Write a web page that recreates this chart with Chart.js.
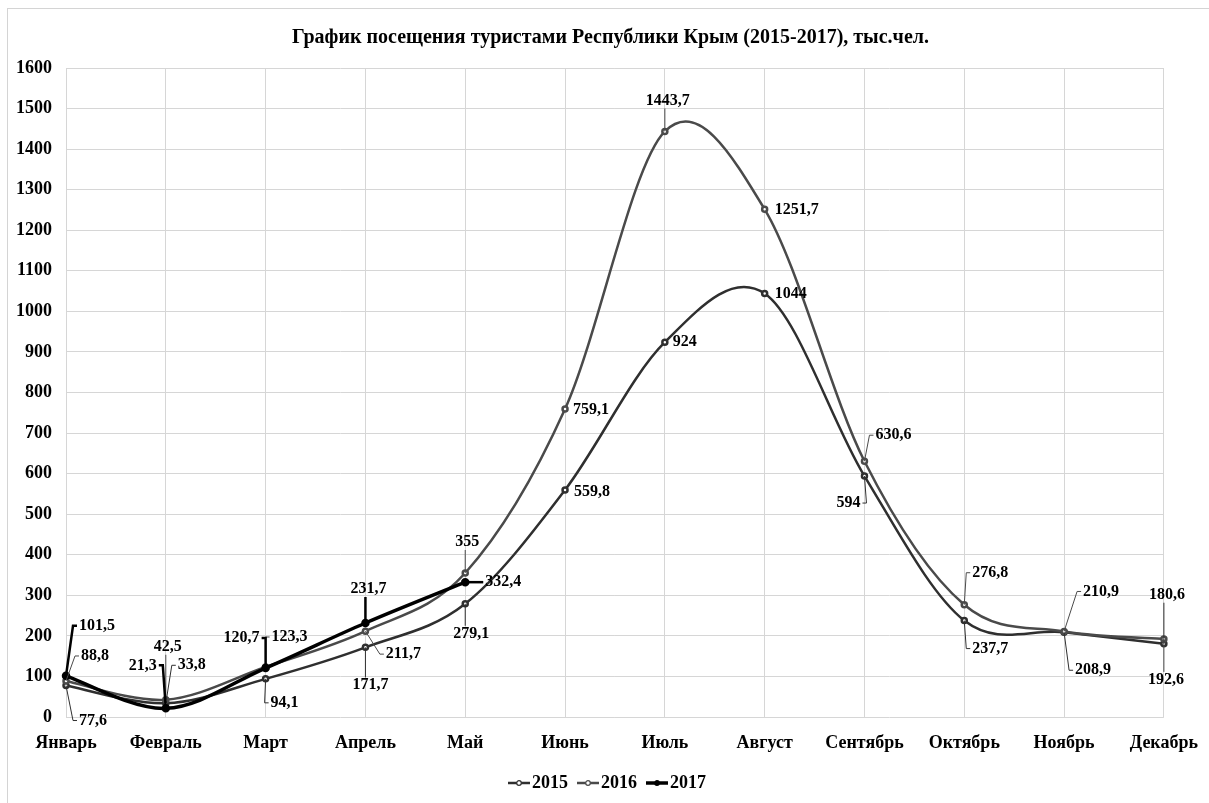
<!DOCTYPE html>
<html lang="ru">
<head>
<meta charset="utf-8">
<title>График посещения туристами Республики Крым</title>
<script src="https://cdn.jsdelivr.net/npm/chart.js@4.4.1/dist/chart.umd.min.js"></script>
<style>
    html, body { margin: 0; padding: 0; background: #fff; overflow: hidden; }
    #frame { position: absolute; left: 7px; top: 8px; width: 1400px; height: 1000px; border: 1px solid #d4d4d4; }
    #wrap { position: absolute; left: 0; top: 0; width: 1209px; height: 803px; }
</style>
</head>
<body>
<div id="frame"></div>
<div id="wrap"><canvas id="chart" width="1209" height="803"></canvas></div>
<script>
/**
 * Данные графика (тыс. чел.).
 */
const MONTHS = ['Январь', 'Февраль', 'Март', 'Апрель', 'Май', 'Июнь', 'Июль', 'Август', 'Сентябрь', 'Октябрь', 'Ноябрь', 'Декабрь'];
const SERIES_NAMES = ['2015', '2016', '2017'];
const VISITS_2015 = [77.6, 33.8, 94.1, 171.7, 279.1, 559.8, 924, 1044, 594, 237.7, 208.9, 180.6];
const VISITS_2016 = [88.8, 42.5, 123.3, 211.7, 355, 759.1, 1443.7, 1251.7, 630.6, 276.8, 210.9, 192.6];
const VISITS_2017 = [101.5, 21.3, 120.7, 231.7, 332.4];
const Y_MIN = 0;
const Y_MAX = 1600;
const Y_STEP = 100;

/**
 * Смещения подписей значений относительно точек (px), как в исходной картинке.
 */
const OFFSETS_2015 = [[27, 35], [26, -38], [19, 24], [5, 38], [6, 30], [27, 2], [20, 0], [26, 0], [-16, 27], [26, 28], [29, 38], [3, -49]];
const OFFSETS_2016 = [[29, -25], [2, -53], [24, -30], [38, 23], [2, -31], [26, 1], [3, -31], [32, 1], [29, -26], [26, -32], [37, -40], [2, 41]];
const OFFSETS_2017 = [[31, -50], [-23, -43], [-24, -30], [3, -34], [38, 0]];

const FONT = "'Liberation Serif', 'Times New Roman', serif";

const makeLegendMark = (color, lineWidth, fill) => {
    const c = document.createElement('canvas');
    c.width = 22;
    c.height = 8;
    const g = c.getContext('2d');
    g.strokeStyle = color;
    g.lineWidth = lineWidth;
    g.beginPath();
    g.moveTo(0, 4);
    g.lineTo(22, 4);
    g.stroke();
    g.beginPath();
    g.arc(11, 4, 2.3, 0, Math.PI * 2);
    g.fillStyle = fill;
    g.fill();
    g.lineWidth = 1.2;
    g.stroke();
    return c;
};

/**
 * Сглаживание как в Excel: контрольные точки P[i] ± (P[i+1] - P[i-1]) / 6.
 * Штатный tension в Chart.js взвешивает по длинам отрезков и сдвигает пики.
 */
const excelSmoothing = {
    id: 'excelSmoothing',
    beforeDatasetDraw(chart, args) {
        const line = args.meta.dataset;
        if (!line) {
            return;
        }
        line.updateControlPoints(chart.chartArea, 'x');
        const pts = line.points.filter((p) => !p.skip);
        pts.forEach((p, k) => {
            const prev = pts[k - 1] || p;
            const next = pts[k + 1] || p;
            const tx = (next.x - prev.x) / 6;
            const ty = (next.y - prev.y) / 6;
            p.cp1x = p.x - tx;
            p.cp1y = p.y - ty;
            p.cp2x = p.x + tx;
            p.cp2y = p.y + ty;
        });
    }
};

/**
 * Подписи значений с выносками.
 */
const pointLabels = {
    id: 'pointLabels',
    afterDatasetsDraw(chart) {
        const ctx = chart.ctx;
        ctx.save();
        ctx.font = 'bold 16px ' + FONT;
        ctx.textAlign = 'center';
        ctx.textBaseline = 'middle';

        chart.data.datasets.forEach((ds, i) => {
            const meta = chart.getDatasetMeta(i);
            meta.data.forEach((pt, j) => {
                const v = ds.data[j];
                if (v === null || v === undefined) {
                    return;
                }
                const text = String(v).replace('.', ',');
                const [dx, dy] = ds.labelOffsets[j];
                const cx = pt.x + dx;
                const cy = pt.y + dy;
                const w = ctx.measureText(text).width;
                const x0 = cx - w / 2 - 2;
                const x1 = cx + w / 2 + 2;
                const y0 = cy - 8;
                const y1 = cy + 8;

                const qx = Math.min(Math.max(pt.x, x0), x1);
                const qy = Math.min(Math.max(pt.y, y0), y1);
                if (Math.hypot(pt.x - qx, pt.y - qy) > 10) {
                    ctx.strokeStyle = ds.borderColor;
                    ctx.lineWidth = ds.leaderWidth;
                    ctx.beginPath();
                    if (pt.x < x0 || pt.x > x1) {
                        const sx = pt.x < x0 ? x0 : x1;
                        const stub = pt.x < x0 ? -4 : 4;
                        ctx.moveTo(sx, cy);
                        ctx.lineTo(sx + stub, cy);
                    } else {
                        ctx.moveTo(pt.x, pt.y < y0 ? y0 : y1);
                    }
                    ctx.lineTo(pt.x, pt.y);
                    ctx.stroke();
                }

                ctx.fillStyle = '#000';
                ctx.fillText(text, cx, cy);
            });
        });
        ctx.restore();
    }
};

const LEGEND_MARKS = [
    makeLegendMark('#2f2f2f', 2.5, '#fff'),
    makeLegendMark('#4a4a4a', 2.5, '#fff'),
    makeLegendMark('#000', 3.5, '#000')
];

Chart.defaults.color = '#000';

new Chart(document.getElementById('chart'), {
    type: 'line',
    data: {
        labels: MONTHS,
        datasets: [
            {
                label: SERIES_NAMES[0],
                data: VISITS_2015,
                borderColor: '#2f2f2f',
                borderWidth: 2.5,
                pointBackgroundColor: '#fff',
                pointBorderColor: '#2f2f2f',
                labelOffsets: OFFSETS_2015,
                leaderWidth: 1,
                order: 2
            },
            {
                label: SERIES_NAMES[1],
                data: VISITS_2016,
                borderColor: '#4a4a4a',
                borderWidth: 2.5,
                pointBackgroundColor: '#fff',
                pointBorderColor: '#4a4a4a',
                labelOffsets: OFFSETS_2016,
                leaderWidth: 1,
                order: 1
            },
            {
                label: SERIES_NAMES[2],
                data: VISITS_2017,
                borderColor: '#000',
                borderWidth: 3.5,
                pointBackgroundColor: '#000',
                pointBorderColor: '#000',
                labelOffsets: OFFSETS_2017,
                leaderWidth: 2.5,
                order: 0
            }
        ]
    },
    options: {
        responsive: false,
        animation: false,
        layout: { padding: { left: 12, right: 0, top: 0, bottom: 1 } },
        elements: {
            line: { tension: 0.4, fill: false, capBezierPoints: false },
            point: { radius: 2.5, borderWidth: 1.2, hoverRadius: 2.5 }
        },
        scales: {
            x: {
                grid: { color: '#d6d6d6', drawTicks: false },
                border: { display: false },
                ticks: {
                    font: { family: FONT, size: 18, weight: 'bold', lineHeight: 1.75 },
                    padding: 11,
                    autoSkip: false,
                    maxRotation: 0
                },
                afterFit: (s) => { s.height = 41; }
            },
            y: {
                min: Y_MIN,
                max: Y_MAX,
                grid: { color: '#d6d6d6', drawTicks: false },
                border: { display: false },
                ticks: {
                    stepSize: Y_STEP,
                    font: { family: FONT, size: 18, weight: 'bold' },
                    padding: 14,
                    callback: (v) => String(v)
                },
                afterFit: (s) => { s.width = 54; }
            },
            yRight: {
                position: 'right',
                grid: { display: false },
                border: { display: false },
                ticks: { display: false },
                afterFit: (s) => { s.width = 45; }
            }
        },
        plugins: {
            title: {
                display: true,
                text: 'График посещения туристами Республики Крым (2015-2017), тыс.чел.',
                font: { family: FONT, size: 20, weight: 'bold', lineHeight: 1.2 },
                padding: { top: 26, bottom: 18 },
                color: '#000'
            },
            legend: {
                position: 'bottom',
                labels: {
                    font: { family: FONT, size: 18, weight: 'bold' },
                    usePointStyle: true,
                    pointStyleWidth: 8,
                    padding: 16,
                    generateLabels: (chart) => {
                        const items = Chart.defaults.plugins.legend.labels.generateLabels(chart);
                        items.sort((a, b) => a.datasetIndex - b.datasetIndex);
                        items.forEach((it) => { it.pointStyle = LEGEND_MARKS[it.datasetIndex]; });
                        return items;
                    }
                }
            },
            tooltip: { enabled: false }
        }
    },
    plugins: [excelSmoothing, pointLabels]
});
</script>
</body>
</html>
